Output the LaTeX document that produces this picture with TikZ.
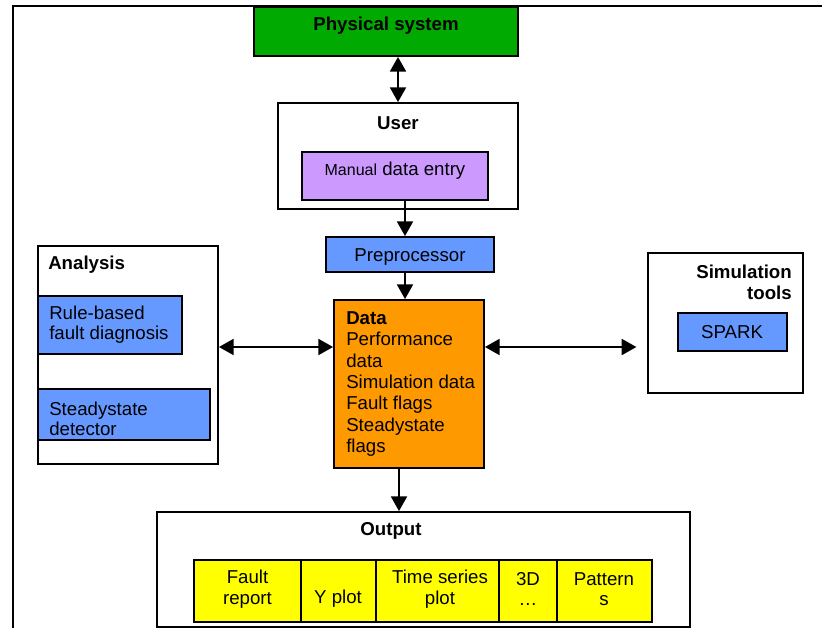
\documentclass[tikz,border=0pt]{standalone}
\usepackage{fontspec}
\setmainfont{Liberation Sans}
\usetikzlibrary{arrows.meta,fit,calc}
\definecolor{physgreen}{RGB}{0,170,0}
\definecolor{manpurple}{RGB}{204,153,255}
\definecolor{procblue}{RGB}{102,153,255}
\definecolor{dataorange}{RGB}{255,153,0}
\definecolor{outyellow}{RGB}{255,255,0}
\begin{document}
\begin{tikzpicture}[x=0.75pt,y=-0.75pt,
  box/.style={draw=black, line width=1.4pt, inner sep=0pt},
  lbl/.style={font=\fontsize{14}{16}\selectfont, inner sep=0pt, yshift=-1.5pt},
  blbl/.style={font=\fontsize{14}{16}\selectfont\bfseries, inner sep=0pt, yshift=-1.5pt},
  con/.style={line width=1.4pt, -{Triangle[length=11pt,width=12pt]}},
  dcon/.style={line width=1.4pt, {Triangle[length=11pt,width=12pt]}-{Triangle[length=11pt,width=12pt]}}]
\useasboundingbox (0,0) rectangle (822,628);
% outer frame
\draw[line width=1.4pt] (13,628) -- (13,6) -- (822,6);
% boxes
\node[box, fill=physgreen, fit={(254,7) (518,56)}] (phys) {};
\node[box, fill=white, fit={(278,103) (518,209)}] (user) {};
\node[box, fill=manpurple, fit={(302,152) (488,200)}] (manual) {};
\node[box, fill=procblue, fit={(326,237) (494,272)}] (prep) {};
\node[box, fill=dataorange, fit={(334,300) (484,468)}] (data) {};
\node[box, fill=white, fit={(38,246) (218,464)}] (analysis) {};
\node[box, fill=procblue, fit={(38,296) (182,354)}] (rule) {};
\node[box, fill=procblue, fit={(38,389) (210,440)}] (steady) {};
\node[box, fill=white, fit={(648,253) (803,393)}] (sim) {};
\node[box, fill=procblue, fit={(678,313) (787,351)}] (spark) {};
\node[box, fill=white, fit={(157,512) (690,627)}] (output) {};
\node[box, fill=outyellow, fit={(194,560) (301,622)}] (fr) {};
\node[box, fill=outyellow, fit={(301,560) (376,622)}] (yp) {};
\node[box, fill=outyellow, fit={(376,560) (499,622)}] (ts) {};
\node[box, fill=outyellow, fit={(499,560) (557,622)}] (d3) {};
\node[box, fill=outyellow, fit={(557,560) (652,622)}] (pat) {};
% texts
\node[blbl] (physt) at (386,24) {Physical system};
\node[blbl] (usert) at (398,121) {User};
\node[lbl] (mant) at (395,169) {{\fontsize{12}{14}\selectfont Manual} data entry};
\node[lbl] (prept) at (410,255) {Preprocessor};
\node[blbl, anchor=west] (anat) at (48,263) {Analysis};
\node[lbl, anchor=west, align=left, font=\fontsize{14}{15}\selectfont] (rulet) at (49,323) {Rule-based\\fault diagnosis};
\node[lbl, anchor=west, align=left, font=\fontsize{14}{15}\selectfont] (steadyt) at (49,417) {Steadystate\\detector};
\node[lbl, anchor=west, align=left, font=\fontsize{14}{16.1}\selectfont] (datat) at (346,382) {\textbf{Data}\\Performance\\data\\Simulation data\\Fault flags\\Steadystate\\flags};
\node[blbl, anchor=east, align=right] (simt) at (792,280.5) {Simulation\\tools};
\node[lbl] (sparkt) at (732,330) {SPARK};
\node[blbl] (outt) at (391,529) {Output};
\node[lbl, align=center, font=\fontsize{14}{15.5}\selectfont] (frt) at (247.5,587) {Fault\\report};
\node[lbl] (ypt) at (338,597) {Y plot};
\node[lbl, align=center, font=\fontsize{14}{15.5}\selectfont] (tst) at (440,587) {Time series\\plot};
\node[lbl, align=center, font=\fontsize{14}{15.5}\selectfont] (d3t) at (528,587) {3D\\\ldots};
\node[lbl, align=center, font=\fontsize{14}{15.5}\selectfont] (patt) at (604,587) {Pattern\\s};
% connector helpers
\coordinate (ax) at (405,0);
\coordinate (bx) at (399,0);
\coordinate (cy) at (0,347);
% connectors
\draw[dcon] (phys.south -| usert) -- (user.north -| usert);
\draw[con] (manual.south -| ax) -- (prep.north -| ax);
\draw[con] (prep.south -| ax) -- (data.north -| ax);
\draw[con] (data.south -| bx) -- (output.north -| bx);
\draw[dcon] (analysis.east |- cy) -- (data.west |- cy);
\draw[dcon, shorten >=8pt] (data.east |- cy) -- (sim.west |- cy);
\end{tikzpicture}
\end{document}
